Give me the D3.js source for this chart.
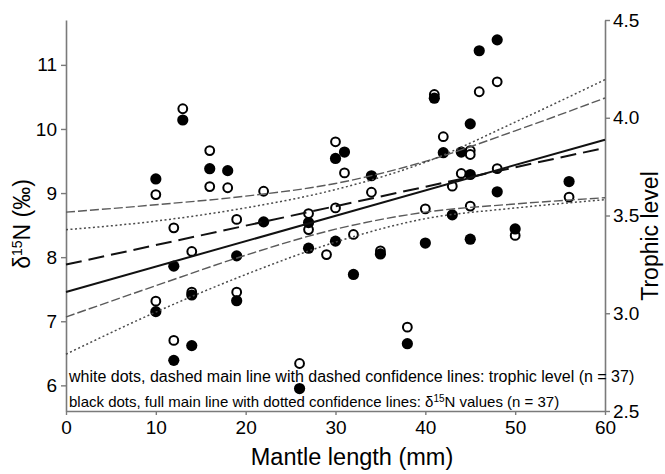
<!DOCTYPE html>
<html>
<head>
<meta charset="utf-8">
<script src="https://cdn.jsdelivr.net/npm/d3@7"></script>
<style>
  body { margin: 0; background: #fff; }
  text { font-family: "Liberation Sans", Arial, sans-serif; fill: #000; }
</style>
</head>
<body>
<div id="chart"></div>
<script>
/* CONSTANTS */
const width = 665,
  height = 474,
  margin = { top: 20, bottom: 63, left: 66, right: 60 };

/* DATA */
// black dots: d15N (left axis)
const blackMm = [10, 10, 13, 12, 12, 14, 14, 16, 18, 19, 19, 22, 26, 27, 27, 30, 30, 31, 32, 34, 35, 38, 40, 41, 42, 43, 44, 45, 45, 45, 46, 48, 48, 50, 56];
const blackD15N = [9.22, 7.15, 10.14, 7.86, 6.39, 6.62, 7.41, 9.38, 9.35, 7.32, 8.02, 8.55, 5.95, 8.54, 8.14, 8.25, 9.54, 9.64, 7.73, 9.27, 8.05, 6.65, 8.22, 10.48, 9.63, 8.66, 9.64, 10.08, 9.29, 8.28, 11.22, 11.39, 9.02, 8.44, 9.18];

// white dots: trophic level (right axis)
const whiteMm = [10, 10, 13, 12, 12, 14, 14, 16, 16, 18, 19, 19, 22, 26, 27, 27, 29, 30, 30, 31, 32, 34, 35, 38, 40, 41, 42, 43, 44, 45, 45, 45, 46, 48, 48, 50, 56];
const whiteTL = [3.607, 3.062, 4.046, 3.437, 2.861, 3.316, 3.108, 3.832, 3.648, 3.642, 3.108, 3.480, 3.624, 2.743, 3.510, 3.428, 3.300, 3.877, 3.539, 3.718, 3.403, 3.619, 3.319, 2.929, 3.534, 4.119, 3.903, 3.650, 3.715, 3.832, 3.812, 3.548, 4.133, 4.184, 3.740, 3.398, 3.594];

// regression lines (ends) and confidence lines
const fitMm = [0, 60];
const fitD15N = [7.457, 9.833];
const fitTL = [3.249, 3.846];
const ciMm = [0, 10, 20, 30, 40, 50, 60];
const d15Upper = [8.428, 8.563, 8.769, 9.055, 9.481, 10.107, 10.769];
const d15Lower = [6.486, 7.143, 7.729, 8.235, 8.601, 8.767, 8.897];
const tlUpper = [3.517, 3.555, 3.599, 3.664, 3.777, 3.933, 4.101];
const tlLower = [2.981, 3.141, 3.297, 3.430, 3.517, 3.559, 3.591];

// ticks
const xTicks = [0, 10, 20, 30, 40, 50, 60];
const leftTicks = [6, 7, 8, 9, 10, 11];
const rightTicks = [2.5, 3.0, 3.5, 4.0, 4.5];

/* SCALES */
const xScale = d3.scaleLinear()
  .domain([0, 60])
  .range([margin.left, width - margin.right]);

const yLeft = d3.scaleLinear()
  .domain([5.6, 11.7])
  .range([height - margin.bottom, margin.top]);

const yRight = d3.scaleLinear()
  .domain([2.5, 4.5])
  .range([height - margin.bottom, margin.top]);

const svg = d3.select("#chart")
  .append("svg")
  .attr("width", width)
  .attr("height", height);

/* AXES */
const axisColor = "#7a7a7a";

const xAxis = svg.append("g")
  .attr("transform", `translate(0, ${height - margin.bottom})`)
  .call(d3.axisBottom(xScale).tickValues(xTicks).tickSize(4).tickPadding(6).tickSizeOuter(0));

const leftAxis = svg.append("g")
  .attr("transform", `translate(${margin.left}, 0)`)
  .call(d3.axisLeft(yLeft).tickValues(leftTicks).tickFormat(d3.format("d")).tickSize(5).tickPadding(4).tickSizeOuter(0));

const rightAxis = svg.append("g")
  .attr("transform", `translate(${width - margin.right}, 0)`)
  .call(d3.axisRight(yRight).tickValues(rightTicks).tickFormat(d3.format(".1f")).tickSize(5).tickPadding(3).tickSizeOuter(0));

[xAxis, leftAxis, rightAxis].forEach(g => {
  g.select(".domain").attr("stroke", axisColor).attr("stroke-width", 1.6);
  g.selectAll(".tick line").attr("stroke", axisColor).attr("stroke-width", 1.4);
  g.selectAll(".tick text")
    .attr("font-family", "Liberation Sans, Arial, sans-serif")
    .attr("font-size", 19)
    .attr("fill", "#000");
});

// axis titles
svg.append("text")
  .attr("x", 352)
  .attr("y", 465)
  .attr("text-anchor", "middle")
  .attr("font-size", 23.5)
  .text("Mantle length (mm)");

const leftTitle = svg.append("text")
  .attr("transform", "translate(30, 224) rotate(-90)")
  .attr("text-anchor", "middle")
  .attr("font-size", 23);
leftTitle.append("tspan").text("δ");
leftTitle.append("tspan").attr("font-size", 14).attr("dy", -8).text("15");
leftTitle.append("tspan").attr("dy", 8).text("N (‰)");

svg.append("text")
  .attr("transform", "translate(658, 236) rotate(-90)")
  .attr("text-anchor", "middle")
  .attr("font-size", 23)
  .text("Trophic level");

/* DOTS */
svg.append("g")
  .selectAll("circle")
  .data(whiteMm.map((m, i) => ({ mm: m, v: whiteTL[i] })))
  .join("circle")
  .attr("cx", d => xScale(d.mm))
  .attr("cy", d => yRight(d.v))
  .attr("r", 4.4)
  .attr("fill", "#fff")
  .attr("stroke", "#000")
  .attr("stroke-width", 2);

svg.append("g")
  .selectAll("circle")
  .data(blackMm.map((m, i) => ({ mm: m, v: blackD15N[i] })))
  .join("circle")
  .attr("cx", d => xScale(d.mm))
  .attr("cy", d => yLeft(d.v))
  .attr("r", 5.6)
  .attr("fill", "#000");

/* LINES */
function addLine(xs, ys, yScale, opts) {
  const line = d3.line()
    .x(d => xScale(d[0]))
    .y(d => yScale(d[1]))
    .curve(opts.curve || d3.curveLinear);
  svg.append("path")
    .datum(xs.map((x, i) => [x, ys[i]]))
    .attr("d", line)
    .attr("fill", "none")
    .attr("stroke", opts.color)
    .attr("stroke-width", opts.width)
    .attr("stroke-dasharray", opts.dash || null);
}

// confidence lines
addLine(ciMm, tlUpper, yRight, { color: "#5a5a5a", width: 1.4, dash: "9,3", curve: d3.curveMonotoneX });
addLine(ciMm, tlLower, yRight, { color: "#5a5a5a", width: 1.4, dash: "9,3", curve: d3.curveMonotoneX });
addLine(ciMm, d15Upper, yLeft, { color: "#4a4a4a", width: 1.5, dash: "2,2.5", curve: d3.curveMonotoneX });
addLine(ciMm, d15Lower, yLeft, { color: "#4a4a4a", width: 1.5, dash: "2,2.5", curve: d3.curveMonotoneX });

// main lines
addLine(fitMm, fitTL, yRight, { color: "#111", width: 2, dash: "16,7" });
addLine(fitMm, fitD15N, yLeft, { color: "#111", width: 2 });

/* LEGEND TEXT */
svg.append("text")
  .attr("x", 69)
  .attr("y", 382)
  .attr("font-size", 16)
  .text("white dots, dashed main line with dashed confidence lines: trophic level (n = 37)");

const leg2 = svg.append("text")
  .attr("x", 69)
  .attr("y", 407)
  .attr("font-size", 15);
leg2.append("tspan").text("black dots, full main line with dotted confidence lines: δ");
leg2.append("tspan").attr("font-size", 10).attr("dy", -5).text("15");
leg2.append("tspan").attr("dy", 5).text("N values (n = 37)");
</script>
</body>
</html>
